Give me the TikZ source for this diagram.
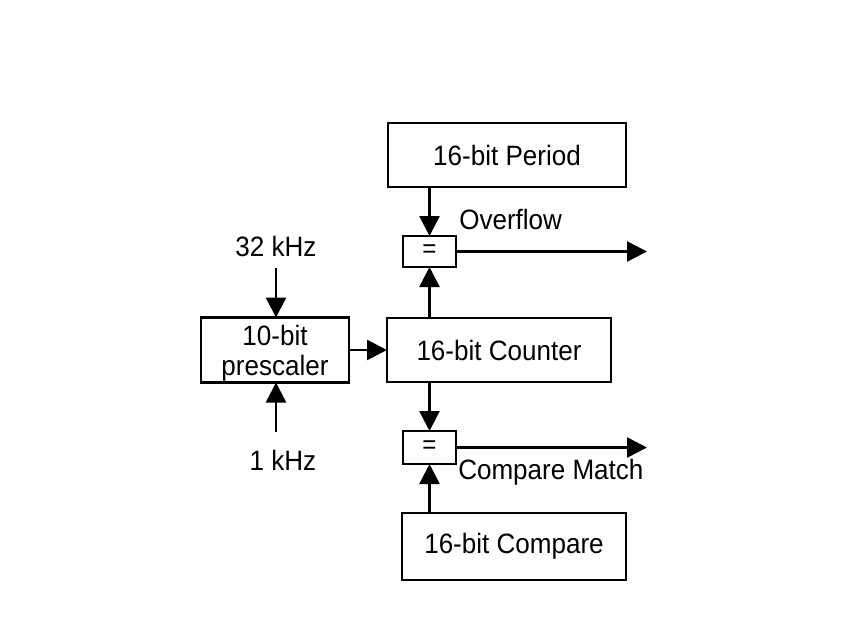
\documentclass[tikz,border=0pt]{standalone}
\usepackage{fontspec}
\setmainfont[FakeStretch=0.93]{Liberation Sans}
\usetikzlibrary{arrows.meta}
\begin{document}
\begin{tikzpicture}[x=1pt,y=-1pt,line width=2.5pt,
  blk/.style={draw,line width=2.5pt,inner sep=0pt,outer sep=0pt,font=\fontsize{28}{32}\selectfont,align=center},
  eqbox/.style={draw,line width=2.5pt,inner sep=0pt,outer sep=0pt,minimum width=53pt,minimum height=31pt,font=\fontsize{26}{28}\selectfont},
  lbl/.style={inner sep=0pt,font=\fontsize{28}{30}\selectfont},
  arr/.style={-{Triangle[length=20pt,width=20pt]},line width=2.5pt}]
\useasboundingbox[fill=white] (0,0) rectangle (850,638);
\node[blk,minimum width=238pt,minimum height=64pt] (period) at (507,155) {16-bit Period};
\node[eqbox] (eqA) at (429.5,251.5) {=};
\node[blk,minimum width=224pt,minimum height=64pt] (counter) at (499,350) {16-bit Counter};
\node[blk,minimum width=148pt,minimum height=65pt,text depth=0pt] (presc) at (275,350) {\raisebox{-2pt}{10-bit}\\prescaler};
\node[eqbox,minimum height=33pt] (eqB) at (429.5,447.5) {=};
\node[blk,minimum width=224pt,minimum height=67pt] (compare) at (514,546.5) {16-bit Compare};
\node[lbl,anchor=west] (ovf) at (458,219) {Overflow};
\node[lbl,anchor=west] (cm) at (457,472) {Compare Match};
\node[lbl] (k32) at (276,246) {32 kHz};
\node[lbl] (k1) at (283,460) {1 kHz};
\coordinate (outA) at (647,251.5);
\coordinate (outB) at (647,447.5);
\coordinate (in32) at (276,268);
\coordinate (in1) at (276,432);
\draw[arr] (period.south -| eqA) -- (eqA.north);
\draw[arr] (eqA.south |- counter.north) -- (eqA.south);
\draw[arr] (eqA.east) -- (outA);
\draw[arr] (counter.south -| eqB) -- (eqB.north);
\draw[arr] (eqB.south |- compare.north) -- (eqB.south);
\draw[arr] (eqB.east) -- (outB);
\draw[arr] (presc.east) -- (counter.west);
\draw[arr] (in32) -- (in32 |- presc.north);
\draw[arr] (in1) -- (in1 |- presc.south);
\end{tikzpicture}
\end{document}
